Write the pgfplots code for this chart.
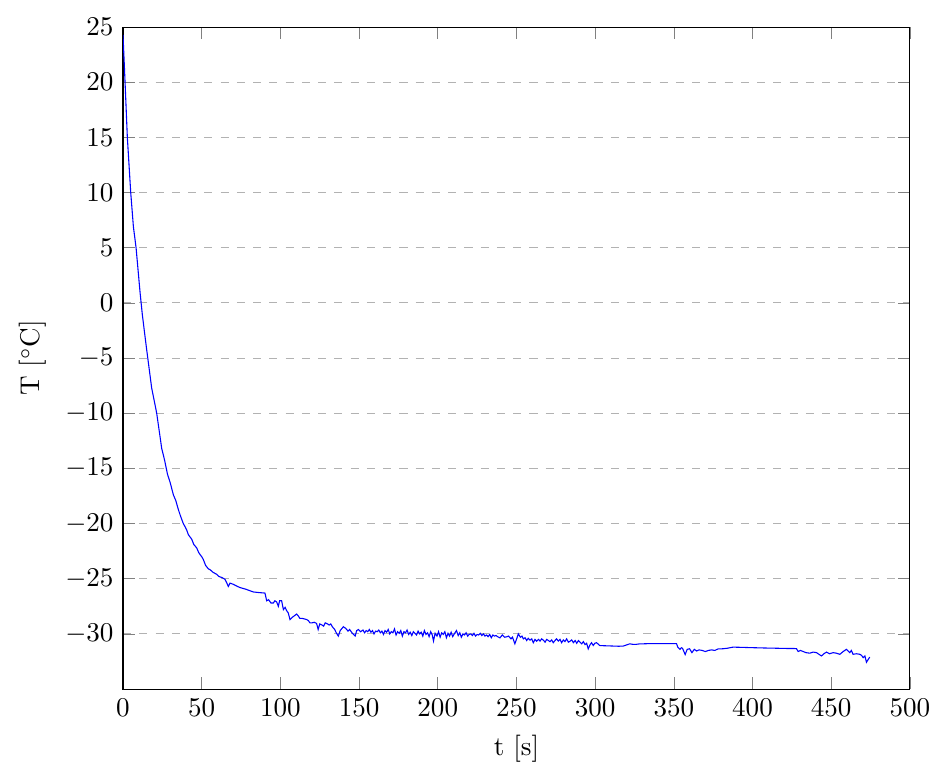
\documentclass[border=0pt]{standalone}
\usepackage{pgfplots}
\pgfplotsset{compat=1.18}
\begin{document}
\begin{tikzpicture}
% page frame taken from the reference margins
\path[use as bounding box] (-45.4pt,-28.8pt) rectangle (299.3pt,254.3pt);
\begin{axis}[
  at={(0,0)}, anchor=south west,
  scale only axis,
  width=290.4pt,
  height=244.3pt,
  xmin=0, xmax=500,
  ymin=-35, ymax=25,
  xtick={0,50,...,500},
  ytick={-30,-25,...,25},
  ymajorgrids,
  grid style={dashed, gray!60},
  xlabel={t [s]},
  ylabel={T [$^{\circ}$C]},
]
\addplot[blue, mark=none] coordinates {
(0,24.3) (1.3,20) (2.75,15) (4.9,10) (6.6,6.9) (8.3,5) (10.8,1) (12.3,-1.1)
(15,-4.2) (18.2,-7.7) (21.4,-10) (24.6,-13.2) (26.5,-14.3) (28.2,-15.5)
(30,-16.3) (32,-17.4) (33.5,-17.9) (35.2,-18.75) (36.5,-19.3) (38.3,-20)
(39.5,-20.3) (40.5,-20.6) (41.5,-21.0) (42.5,-21.2) (43.6,-21.4) (45,-21.9)
(46.8,-22.2) (48,-22.6) (48.9,-22.8) (50,-23.0) (51,-23.25) (52.5,-23.8)
(54.2,-24.1) (55.5,-24.2) (57,-24.4) (59.5,-24.6) (61,-24.8) (63,-24.9)
(64.8,-25.06) (66,-25.4) (66.9,-25.7) (68,-25.4) (70,-25.5) (72,-25.65)
(74.3,-25.8) (78,-25.95) (82.8,-26.2) (86,-26.25) (90.2,-26.3) (91.3,-27.0)
(92.5,-26.9) (94,-27.2) (95.5,-27.2) (96.5,-27.0) (97.6,-27.1) (98.7,-27.5)
(99.5,-27.0) (100.8,-27.0) (101.9,-27.8) (103,-27.6) (104,-27.9) (105,-28.1)
(106.1,-28.7) (107.5,-28.5) (108.5,-28.4) (110.3,-28.2) (111.5,-28.4)
(112.4,-28.6) (114,-28.6) (116.7,-28.7) (117.8,-28.8) (118.8,-29.0)
(120,-29.0) (121.5,-28.95) (123,-29.05) (124,-29.6) (125,-29.1) (126.5,-29.2)
(127.5,-29.3) (128.5,-29.0) (130,-29.1) (131,-29.2) (132,-29.1) (133,-29.35)
(134.5,-29.6) (135.5,-29.9) (136.8,-30.2) (138,-29.7) (140,-29.35)
(141.5,-29.5) (143,-29.75) (144,-29.6) (145.5,-29.9) (147.5,-30.2)
(148.5,-29.7) (149.6,-29.6) (151,-29.8) (152.5,-29.65) (153.5,-29.9)
(154.5,-29.7) (155.5,-29.8) (156.5,-29.6) (157.5,-29.85) (158.5,-29.7)
(159.5,-30.0) (160.5,-29.75) (161.5,-29.8) (162.5,-29.65) (163.5,-29.9)
(164.5,-29.75) (165.5,-30.05) (166.5,-29.7) (167.5,-29.85) (168.5,-29.6)
(169.5,-30.0) (170.5,-29.8) (171.5,-29.9) (172.5,-29.55) (173.5,-30.1)
(174.5,-29.8) (175.5,-29.95) (176.5,-29.7) (177.5,-30.2) (178.5,-29.8)
(179.5,-29.9) (180.5,-29.65) (181.5,-30.05) (182.5,-29.85) (183.5,-30.15)
(184.5,-29.8) (185.5,-29.95) (186.5,-30.1) (187.5,-29.75) (188.5,-30.0)
(189.5,-29.85) (190.5,-30.2) (191.5,-29.7) (192.5,-30.05) (193.5,-29.9)
(194.5,-30.25) (195.5,-29.8) (196.5,-30.1) (197.3,-30.65) (198.3,-29.95)
(199.5,-30.2) (200.5,-29.8) (201.5,-30.3) (202.5,-29.9) (203.5,-30.05)
(204.5,-29.8) (205.5,-30.35) (206.5,-29.95) (207.5,-30.2) (208.5,-29.85)
(209.5,-30.25) (210.5,-30.0) (211.9,-29.7) (213,-30.15) (214,-29.9)
(215,-30.3) (216,-30.0) (217,-30.1) (218,-29.9) (219,-30.2) (220,-30.05)
(221,-30.0) (222,-30.15) (223,-29.95) (224,-30.2) (225,-30.05) (226,-30.1)
(227,-29.95) (228,-30.15) (229,-30.0) (230,-30.2) (231,-30.1) (232,-30.25)
(233,-30.05) (234,-30.35) (235,-30.1) (236,-30.2) (237,-30.15) (238,-30.25)
(239.5,-30.36) (241,-30.1) (242.5,-30.3) (243.7,-30.27) (245,-30.2)
(246.5,-30.45) (247.5,-30.3) (249,-30.9) (250,-30.5) (251.2,-30.0)
(252.5,-30.3) (253.5,-30.2) (254.4,-30.45) (255.5,-30.35) (256.5,-30.6)
(257.5,-30.4) (258.6,-30.57) (259.7,-30.45) (260.7,-30.8) (261.8,-30.5)
(262.8,-30.66) (264,-30.5) (265,-30.65) (266,-30.45) (267.1,-30.57)
(268.2,-30.75) (269.2,-30.5) (270.3,-30.6) (271.3,-30.7) (272.4,-30.55)
(273.4,-30.8) (274.5,-30.6) (275.5,-30.45) (276.6,-30.65) (277.7,-30.5)
(278.7,-30.8) (279.8,-30.55) (280.8,-30.7) (281.9,-30.45) (283,-30.75)
(284.1,-30.66) (285.1,-30.55) (286.2,-30.8) (287.3,-30.6) (288.3,-30.85)
(289.4,-30.6) (290.4,-30.75) (291.5,-30.9) (292.5,-30.7) (293.6,-30.97)
(294.6,-30.85) (295.6,-31.36) (296.7,-31.0) (297.7,-30.8) (298.8,-31.05)
(299.8,-30.85) (300.9,-30.8) (303,-31.06) (307,-31.08) (311,-31.1)
(315,-31.12) (318,-31.1) (320,-31.0) (322,-30.9) (324,-30.95) (326,-30.95)
(328.5,-30.9) (330.6,-30.9) (335,-30.88) (340,-30.88) (346,-30.88)
(351.7,-30.88) (352.5,-31.2) (353.9,-31.4) (354.8,-31.25) (355.5,-31.3)
(357.2,-31.87) (358.5,-31.4) (360,-31.35) (361.5,-31.7) (363,-31.4)
(364.5,-31.55) (366,-31.45) (368,-31.5) (370,-31.6) (372,-31.5)
(374,-31.45) (376,-31.5) (378.2,-31.36) (381,-31.35) (384,-31.3)
(387.7,-31.2) (393,-31.22) (400,-31.25) (408,-31.28) (415,-31.3)
(421,-31.32) (427.9,-31.33) (429,-31.6) (430.5,-31.5) (432.2,-31.6)
(434,-31.7) (436.4,-31.75) (438.5,-31.65) (440.7,-31.7) (442.2,-31.85)
(443.8,-32.0) (445.4,-31.8) (447,-31.65) (449,-31.8) (451.2,-31.7)
(453.3,-31.75) (455.5,-31.85) (457.6,-31.6) (459.7,-31.4) (460.8,-31.55)
(461.8,-31.7) (462.8,-31.5) (463.9,-31.85) (466,-31.8) (468.2,-31.85)
(469.3,-31.95) (470.3,-32.15) (471.4,-32.0) (472.4,-32.57) (474.5,-32.1)
};
\end{axis}
\end{tikzpicture}
\end{document}
